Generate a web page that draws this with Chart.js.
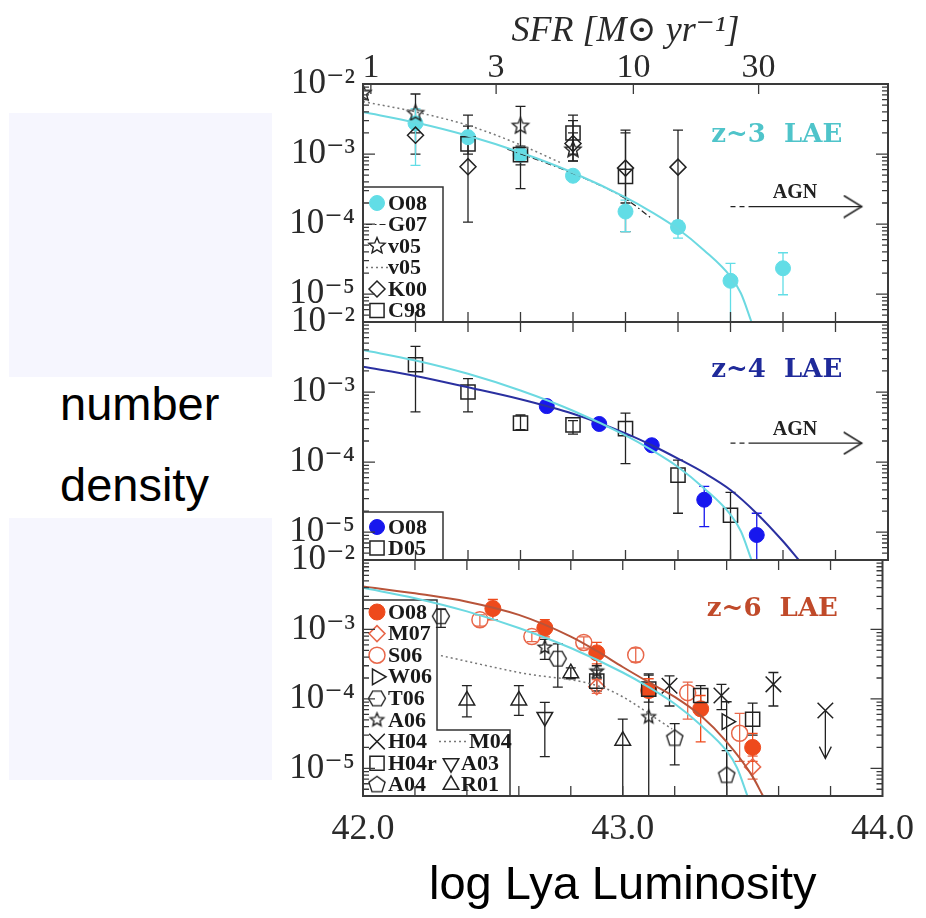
<!DOCTYPE html>
<html>
<head>
<meta charset="utf-8">
<script src="https://cdn.jsdelivr.net/npm/chart.js@4.4.1/dist/chart.umd.min.js"></script>
<style>
  html, body { margin: 0; padding: 0; background: #fff; }
  #wrap { position: relative; width: 926px; height: 918px; overflow: hidden; }
  .band { position: absolute; left: 9px; width: 263px; background: #f6f6fe; }
  #numLabel { position: absolute; left: 60px; top: 363px; font: 47px "Liberation Sans", Arial, sans-serif; line-height: 81px; color: #000; }
  canvas { position: absolute; left: 0; top: 0; }
</style>
</head>
<body>
<div id="wrap">
  <div class="band" style="top:113px;height:264px"></div>
  <div class="band" style="top:518px;height:262px"></div>
  <div id="numLabel">number<br>density</div>
  <canvas id="p1" width="926" height="918"></canvas>
  <canvas id="p2" width="926" height="918"></canvas>
  <canvas id="p3" width="926" height="918"></canvas>
</div>
<script>
// axes
const lumTicks = [42.0, 42.2, 42.4, 42.6, 42.8, 43.0, 43.2, 43.4, 43.6, 43.8, 44.0];
const lumLabels = ['42.0', '', '', '', '', '43.0', '', '', '', '', '44.0'];
const sfrTicks = [1, 3, 10, 30];
const sfrZero = 42.03; // log L where SFR = 1
const yTicks = [1e-5, 1e-4, 1e-3, 1e-2];
const yTickLabels = ['10⁻⁵', '10⁻⁴', '10⁻³', '10⁻²'];
const yMin = 4e-6, yMax = 1e-2;

// z~3 panel
const z3CurveL = [42.0, 42.2, 42.4, 42.6, 42.8, 43.0, 43.1, 43.2, 43.3, 43.4, 43.44, 43.48];
const z3CurveN = [3.98e-3, 2.82e-3, 1.82e-3, 1.05e-3, 5.4e-4, 2.4e-4, 1.48e-4, 8.5e-5, 4.2e-5, 1.78e-5, 1.02e-5, 4.0e-6];
const o08z3L = [42.2, 42.4, 42.6, 42.8, 43.0, 43.2, 43.4, 43.6];
const o08z3N = [2.75e-3, 1.74e-3, 9.8e-4, 4.9e-4, 1.51e-4, 9.1e-5, 1.55e-5, 2.34e-5];
const o08z3Hi = [4.4e-3, 2.0e-3, 1.15e-3, 5.6e-4, 2.2e-4, 1.1e-4, 2.75e-5, 3.9e-5];
const o08z3Lo = [6.9e-4, 1.5e-3, 8.5e-4, 4.3e-4, 7.8e-5, 6.3e-5, 4.0e-6, 9.8e-6];
const g07L = [42.55, 42.7, 42.85, 43.0, 43.1];
const g07N = [1.17e-3, 7.4e-4, 4.4e-4, 2.3e-4, 1.2e-4];
const v05L = [42.0, 42.2, 42.6, 42.8];
const v05N = [7.4e-3, 3.8e-3, 2.5e-3, 1.15e-3];
const v05Hi = [null, 7.2e-3, 4.8e-3, 2.0e-3];
const v05Lo = [null, 2.0e-3, 3.2e-4, 8.0e-4];
const v05fitL = [42.0, 42.2, 42.4, 42.6, 42.75];
const v05fitN = [5.6e-3, 4.0e-3, 2.57e-3, 1.35e-3, 7.6e-4];
const k00L = [42.2, 42.4, 42.8, 43.0, 43.2];
const k00N = [1.86e-3, 6.6e-4, 1.41e-3, 6.3e-4, 6.5e-4];
const k00Hi = [2.8e-3, 3.6e-3, 3.0e-3, 2.2e-3, 2.2e-3];
const k00Lo = [1.0e-3, 1.07e-4, 7.9e-4, 7.8e-5, 9.1e-5];
const c98L = [42.4, 42.6, 42.8, 43.0];
const c98N = [1.4e-3, 9.8e-4, 2.0e-3, 4.8e-4];
const c98Hi = [2.5e-3, 1.3e-3, 3.6e-3, 2.0e-3];
const c98Lo = [1.0e-3, 7.0e-4, 1.0e-3, 2.0e-4];
const agnL = [43.40, 43.47, 43.90];
const agnZ3N = [1.78e-4, 1.78e-4, 1.78e-4];

// z~4 panel
const z4CurveL = [42.0, 42.2, 42.4, 42.6, 42.8, 43.0, 43.1, 43.2, 43.3, 43.4, 43.5, 43.6, 43.66];
const z4CurveN = [2.29e-3, 1.70e-3, 1.17e-3, 7.9e-4, 4.9e-4, 2.57e-4, 1.74e-4, 1.12e-4, 7.0e-5, 4.0e-5, 1.85e-5, 7.4e-6, 4.0e-6];
const o08z4L = [42.7, 42.9, 43.1, 43.3, 43.5];
const o08z4N = [6.3e-4, 3.5e-4, 1.74e-4, 2.9e-5, 9.1e-6];
const o08z4Hi = [null, null, null, 4.5e-5, 1.86e-5];
const o08z4Lo = [null, null, null, 1.2e-5, 4.0e-6];
const d05L = [42.2, 42.4, 42.6, 42.8, 43.0, 43.2, 43.4];
const d05N = [2.45e-3, 1.0e-3, 3.6e-4, 3.4e-4, 3.0e-4, 6.5e-5, 1.74e-5];
const d05Hi = [4.5e-3, 1.55e-3, 4.7e-4, 3.9e-4, 5.0e-4, 1.07e-4, 3.7e-5];
const d05Lo = [5.2e-4, 5.2e-4, 2.9e-4, 2.5e-4, 9.5e-5, 1.86e-5, 4.0e-6];
const agnZ4N = [1.86e-4, 1.86e-4, 1.86e-4];

// z~6 panel
const z6CurveL = [42.0, 42.2, 42.4, 42.6, 42.8, 42.9, 43.0, 43.1, 43.2, 43.3, 43.4, 43.5, 43.54];
const z6CurveN = [4.17e-3, 3.31e-3, 2.51e-3, 1.62e-3, 7.9e-4, 4.9e-4, 2.88e-4, 1.74e-4, 1.07e-4, 5.75e-5, 2.4e-5, 7.6e-6, 4.0e-6];
const o08z6L = [42.5, 42.7, 42.9, 43.1, 43.3, 43.5];
const o08z6N = [2.0e-3, 1.05e-3, 4.6e-4, 1.32e-4, 7.2e-5, 2.0e-5];
const o08z6Hi = [2.7e-3, 1.38e-3, 6.5e-4, 1.95e-4, 1.12e-4, 3.2e-5];
const o08z6Lo = [1.38e-3, 7.8e-4, 3.2e-4, 1.07e-4, 2.4e-5, 1.26e-5];
const m07L = [42.9, 43.5];
const m07N = [1.5e-4, 1.05e-5];
const m07Hi = [1.9e-4, 1.5e-5];
const m07Lo = [1.2e-4, 7.0e-6];
const s06L = [42.45, 42.65, 42.85, 43.05, 43.25, 43.45];
const s06N = [1.38e-3, 7.9e-4, 6.5e-4, 4.3e-4, 1.23e-4, 3.2e-5];
const s06Hi = [1.62e-3, 9.3e-4, 7.8e-4, 5.4e-4, 1.74e-4, 6.2e-5];
const s06Lo = [1.12e-3, 6.7e-4, 5.4e-4, 3.4e-4, 5.1e-5, 1.26e-5];
const w06L = [43.4];
const w06N = [4.7e-5];
const w06Hi = [9.1e-5];
const w06Lo = [4.0e-6];
const t06L = [42.3, 42.75];
const t06N = [1.55e-3, 3.8e-4];
const t06Hi = [1.95e-3, 6.2e-4];
const t06Lo = [1.07e-3, 1.48e-4];
const a06L = [42.7, 42.9, 43.1];
const a06N = [5.5e-4, 2.5e-4, 5.5e-5];
const a06Hi = [7.2e-4, 3.0e-4, 2.3e-4];
const a06Lo = [3.7e-4, 2.0e-4, 4.0e-6];
const h04L = [43.18, 43.38, 43.58, 43.78];
const h04N = [1.55e-4, 1.12e-4, 1.62e-4, 6.8e-5];
const h04Hi = [2.14e-4, 1.62e-4, 2.4e-4, null];
const h04Lo = [7.9e-5, 7.0e-5, 7.9e-5, 1.38e-5];
const h04Limit = [false, false, false, true];
const h04rL = [42.9, 43.1, 43.3, 43.5];
const h04rN = [1.8e-4, 1.38e-4, 1.12e-4, 5.1e-5];
const h04rHi = [2.6e-4, 2.2e-4, 1.55e-4, 8.7e-5];
const h04rLo = [1.3e-4, 9.0e-5, 8.0e-5, 3.0e-5];
const a03L = [42.7];
const a03N = [5.5e-5];
const a03Hi = [8.9e-5];
const a03Lo = [1.48e-5];
const a04L = [43.2, 43.4];
const a04N = [2.7e-5, 7.9e-6];
const a04Hi = [4.4e-5, 1.8e-5];
const a04Lo = [1.12e-5, 4.0e-6];
const r01L = [42.4, 42.6, 42.8, 43.0];
const r01N = [9.5e-5, 9.5e-5, 2.35e-4, 2.5e-5];
const r01Hi = [1.55e-4, 1.55e-4, 2.8e-4, 5.1e-5];
const r01Lo = [5.5e-5, 5.8e-5, 1.95e-4, 4.0e-6];
const m04L = [42.3, 42.6, 42.94, 43.19];
const m04N = [4.2e-4, 2.4e-4, 1.38e-4, 3.7e-5];

// colours
const ink = '#222';
const cyan = '#62dde6', cyanLine = '#6cd9e1', cyanText = '#4fc4ca';
const blue = '#1717ee', blueLine = '#2a30a0', blueText = '#1f2a9a';
const red = '#ee4a1c', redLine = '#b8543a', redOpen = '#e8674a', redText = '#c04a2a';
const none = 'rgba(0,0,0,0)';

function shapeImage(kind, r, color, lw) {
  const s = Math.ceil(2 * r + 2 * lw + 2);
  const c = document.createElement('canvas');
  c.width = s; c.height = s;
  const g = c.getContext('2d');
  g.strokeStyle = color; g.lineWidth = lw;
  const cx = s / 2, cy = s / 2;
  g.beginPath();
  if (kind === 'star') {
    for (let i = 0; i < 10; i++) {
      const rr = i % 2 ? r * 0.45 : r;
      const a = -Math.PI / 2 + i * Math.PI / 5;
      g.lineTo(cx + rr * Math.cos(a), cy + rr * Math.sin(a));
    }
  } else {
    const n = kind === 'pentagon' ? 5 : 6;
    const a0 = kind === 'pentagon' ? -Math.PI / 2 : 0;
    for (let i = 0; i < n; i++) {
      const a = a0 + i * 2 * Math.PI / n;
      g.lineTo(cx + r * Math.cos(a), cy + r * Math.sin(a));
    }
  }
  g.closePath();
  g.stroke();
  return c;
}

function chevronImage(w, h, color) {
  const c = document.createElement('canvas');
  c.width = 2 * w + 2; c.height = 2 * h + 2;
  const g = c.getContext('2d');
  g.strokeStyle = color; g.lineWidth = 1.5;
  g.beginPath();
  g.moveTo(1, 1); g.lineTo(w + 1, h + 1); g.lineTo(1, 2 * h + 1);
  g.stroke();
  return c;
}

const S = {
  o08z3: {pointStyle: 'circle', radius: 7.5, fill: cyan, stroke: cyan, width: 1},
  v05: {pointStyle: shapeImage('star', 8.5, ink, 1.4), radius: 8, fill: none, stroke: ink, width: 1.4},
  k00: {pointStyle: 'rectRot', radius: 8, fill: none, stroke: ink, width: 1.5},
  c98: {pointStyle: 'rect', radius: 10, fill: none, stroke: ink, width: 1.5},
  o08z4: {pointStyle: 'circle', radius: 7.5, fill: blue, stroke: blue, width: 1},
  d05: {pointStyle: 'rect', radius: 10, fill: none, stroke: ink, width: 1.5},
  o08z6: {pointStyle: 'circle', radius: 8, fill: red, stroke: red, width: 1},
  m07: {pointStyle: 'rectRot', radius: 8, fill: none, stroke: redOpen, width: 1.5},
  s06: {pointStyle: 'circle', radius: 8, fill: none, stroke: redOpen, width: 1.5},
  w06: {pointStyle: 'triangle', rotation: 90, radius: 9, fill: none, stroke: ink, width: 1.5},
  t06: {pointStyle: shapeImage('hexagon', 8.5, ink, 1.4), radius: 8, fill: none, stroke: ink, width: 1.4},
  a06: {pointStyle: shapeImage('star', 7, ink, 1.4), radius: 7, fill: none, stroke: ink, width: 1.4},
  h04: {pointStyle: 'crossRot', radius: 11, fill: none, stroke: ink, width: 1.5},
  h04r: {pointStyle: 'rect', radius: 10, fill: none, stroke: ink, width: 1.5},
  a03: {pointStyle: 'triangle', rotation: 180, radius: 9, fill: none, stroke: ink, width: 1.5},
  a04: {pointStyle: shapeImage('pentagon', 8.5, ink, 1.4), radius: 8, fill: none, stroke: ink, width: 1.4},
  r01: {pointStyle: 'triangle', radius: 9, fill: none, stroke: ink, width: 1.5}
};
const L = {
  g07: {color: ink, width: 1.2, dash: [6, 3, 1.5, 3]},
  v05fit: {color: '#777', width: 1.5, dash: [2, 3]},
  m04: {color: '#777', width: 1.5, dash: [2, 3]}
};

function pts(Lx, N, Hi, Lo, st, Lim) {
  return {
    data: Lx.map((x, i) => ({x, y: N[i], hi: Hi ? Hi[i] : null, lo: Lo ? Lo[i] : null, limit: Lim ? Lim[i] : false})),
    showLine: false,
    pointStyle: st.pointStyle,
    pointRadius: st.radius,
    pointRotation: st.rotation || 0,
    pointBackgroundColor: st.fill,
    pointBorderColor: st.stroke,
    pointBorderWidth: st.width,
    errColor: st.stroke,
    errorBars: true
  };
}

function curve(Lx, N, color, width, dash) {
  return {
    data: Lx.map((x, i) => ({x, y: N[i]})),
    showLine: true, pointRadius: 0, borderColor: color, borderWidth: width,
    borderDash: dash || [], cubicInterpolationMode: 'monotone', fill: false
  };
}

function agnArrow(N) {
  return {
    data: agnL.map((x, i) => ({x, y: N[i]})),
    showLine: true, borderColor: ink, borderWidth: 1.3,
    segment: { borderDash: c => c.p0DataIndex === 0 ? [5, 4] : undefined },
    pointRadius: [0, 0, 5], pointStyle: chevronImage(18, 11, ink)
  };
}

// error bars drawn under the markers
const errorBars = {
  id: 'errorBars',
  beforeDatasetsDraw(chart) {
    const {ctx, chartArea: a, scales: {x, y}} = chart;
    ctx.save();
    ctx.beginPath();
    ctx.rect(a.left, a.top, a.right - a.left, a.bottom - a.top);
    ctx.clip();
    chart.data.datasets.forEach(ds => {
      if (!ds.errorBars) return;
      ctx.strokeStyle = ds.errColor;
      ctx.lineWidth = 1.3;
      ds.data.forEach(p => {
        if (p.hi == null && p.lo == null) return;
        const px = x.getPixelForValue(p.x);
        const yt = y.getPixelForValue(p.hi == null ? p.y : p.hi);
        const yb = y.getPixelForValue(p.lo == null ? p.y : p.lo);
        ctx.beginPath();
        ctx.moveTo(px, yt); ctx.lineTo(px, yb);
        if (p.hi != null) { ctx.moveTo(px - 5, yt); ctx.lineTo(px + 5, yt); }
        if (p.lo != null && p.lo > yMin) {
          if (p.limit) {
            ctx.moveTo(px - 6, yb - 12); ctx.lineTo(px, yb); ctx.lineTo(px + 6, yb - 12);
          } else {
            ctx.moveTo(px - 5, yb); ctx.lineTo(px + 5, yb);
          }
        }
        ctx.stroke();
      });
    });
    ctx.restore();
  }
};

function drawMarker(ctx, st, x, y) {
  ctx.save();
  ctx.fillStyle = st.fill; ctx.strokeStyle = st.stroke; ctx.lineWidth = st.width;
  Chart.helpers.drawPoint(ctx, {pointStyle: st.pointStyle, radius: st.radius, rotation: st.rotation || 0, borderWidth: st.width}, x, y);
  ctx.restore();
}

// legend box (under the data), frame, inward ticks and labels (over it)
function makeDeco(cfg) {
  return {
    id: 'deco',
    beforeDatasetsDraw(chart) {
      const {ctx, chartArea: a} = chart;
      const lg = cfg.legend;
      const top = a.bottom - lg.height;
      ctx.save();
      ctx.beginPath();
      ctx.moveTo(a.left, top);
      ctx.lineTo(a.left + lg.width, top);
      if (lg.stepY) {
        ctx.lineTo(a.left + lg.width, top + lg.stepY);
        ctx.lineTo(a.left + lg.stepWidth, top + lg.stepY);
        ctx.lineTo(a.left + lg.stepWidth, a.bottom);
      } else {
        ctx.lineTo(a.left + lg.width, a.bottom);
      }
      ctx.lineTo(a.left, a.bottom);
      ctx.closePath();
      ctx.lineWidth = 1.5;
      ctx.strokeStyle = '#333';
      ctx.stroke();
      ctx.font = 'bold 22px "Liberation Serif", serif';
      ctx.textBaseline = 'middle';
      ctx.textAlign = 'left';
      ctx.fillStyle = '#1a1a1a';
      lg.entries.forEach(e => {
        const ry = top + lg.rowTop + e.row * lg.rowGap;
        const c2 = e.col === 2;
        if (e.mark) drawMarker(ctx, e.mark, a.left + (c2 ? 88 : 14), ry);
        if (e.line) {
          ctx.save();
          ctx.strokeStyle = e.line.color; ctx.lineWidth = e.line.width; ctx.setLineDash(e.line.dash);
          ctx.beginPath();
          ctx.moveTo(a.left + (c2 ? 76 : 3), ry); ctx.lineTo(a.left + (c2 ? 104 : 25), ry);
          ctx.stroke();
          ctx.restore();
        }
        ctx.fillText(e.text, a.left + (c2 ? (e.line ? 106 : 98) : 25), ry + 1);
      });
      ctx.restore();
    },
    afterDatasetsDraw(chart) {
      const {ctx, chartArea: a, scales} = chart;
      const x = scales.x, y = scales.y;
      ctx.save();
      ctx.strokeStyle = '#3a3a3a';
      ctx.lineWidth = 1.3;
      ctx.beginPath();
      lumTicks.forEach(v => {
        if (v <= 42 || v >= 44) return;
        const px = x.getPixelForValue(v);
        ctx.moveTo(px, a.bottom); ctx.lineTo(px, a.bottom - 10);
        if (!cfg.top) { ctx.moveTo(px, a.top); ctx.lineTo(px, a.top + 10); }
      });
      if (cfg.top) {
        sfrTicks.forEach(s => {
          const px = x.getPixelForValue(sfrZero + Math.log10(s));
          ctx.moveTo(px, a.top); ctx.lineTo(px, a.top + 10);
        });
      }
      for (let k = -6; k <= -2; k++) {
        for (let m = 1; m <= 9; m++) {
          const v = m * Math.pow(10, k);
          if (v <= yMin || v >= yMax) continue;
          const py = y.getPixelForValue(v);
          const len = m === 1 ? 12 : 6;
          ctx.moveTo(a.left, py); ctx.lineTo(a.left + len, py);
          ctx.moveTo(a.right, py); ctx.lineTo(a.right - len, py);
        }
      }
      ctx.stroke();
      ctx.lineWidth = 2;
      ctx.strokeRect(a.left, a.top, a.right - a.left, a.bottom - a.top);

      // panel labels
      ctx.textAlign = 'center';
      ctx.textBaseline = 'middle';
      cfg.notes.forEach(n => {
        ctx.font = n.font;
        ctx.fillStyle = n.color;
        ctx.fillText(n.text, x.getPixelForValue(n.x), y.getPixelForValue(n.y));
      });
      ctx.restore();
    }
  };
}

const serif = '"Liberation Serif", "DejaVu Serif", serif';

function makePanel(id, cfg) {
  return new Chart(document.getElementById(id), {
    type: 'scatter',
    data: { datasets: cfg.datasets },
    options: {
      responsive: false,
      animation: false,
      events: [],
      layout: { padding: { left: 0, right: 38, top: cfg.padTop, bottom: cfg.padBottom } },
      plugins: { legend: { display: false }, tooltip: { enabled: false } },
      scales: {
        x: {
          type: 'linear', min: 42, max: 44, position: 'bottom', display: !!cfg.bottom,
          afterBuildTicks: s => { s.ticks = lumTicks.map(v => ({value: v})); },
          afterFit: s => { s.height = cfg.bottom ? 122 : 0; },
          grid: { display: false, drawTicks: false },
          border: { display: false },
          ticks: {
            autoSkip: false, maxRotation: 0, padding: 12, color: '#2a2a2a',
            font: { family: serif, size: 36 },
            callback: (v, i) => lumLabels[i]
          },
          title: {
            display: true, text: 'log Lya Luminosity', color: '#000',
            font: { family: '"Liberation Sans", Arial, sans-serif', size: 47 },
            padding: { top: 0, bottom: 4 }
          }
        },
        x2: {
          type: 'linear', min: 42, max: 44, position: 'top', display: !!cfg.top,
          afterBuildTicks: s => { s.ticks = sfrTicks.map(v => ({value: sfrZero + Math.log10(v)})); },
          afterFit: s => { s.height = cfg.top ? 84 : 0; },
          grid: { display: false, drawTicks: false },
          border: { display: false },
          ticks: {
            autoSkip: false, maxRotation: 0, padding: -4, color: '#2a2a2a',
            font: { family: serif, size: 34 },
            callback: (v, i) => String(sfrTicks[i])
          },
          title: {
            display: true, text: 'SFR [M⊙ yr⁻¹]', color: '#2a2a2a',
            font: { family: serif, size: 36, style: 'italic' },
            padding: { top: 10, bottom: 0 }
          }
        },
        y: {
          type: 'logarithmic', min: yMin, max: yMax,
          afterBuildTicks: s => { s.ticks = yTicks.map(v => ({value: v})); },
          afterFit: s => { s.width = 363; },
          grid: { display: false, drawTicks: false },
          border: { display: false },
          ticks: {
            autoSkip: false, padding: 8, color: '#2a2a2a',
            font: { family: serif, size: 35 },
            callback: (v, i) => yTickLabels[i]
          }
        }
      }
    },
    plugins: [makeDeco(cfg), errorBars]
  });
}

makePanel('p1', {
  top: true, padTop: 0, padBottom: 596,
  datasets: [
    curve(v05fitL, v05fitN, L.v05fit.color, L.v05fit.width, L.v05fit.dash),
    curve(z3CurveL, z3CurveN, cyanLine, 2),
    curve(g07L, g07N, L.g07.color, L.g07.width, L.g07.dash),
    pts(c98L, c98N, c98Hi, c98Lo, S.c98),
    pts(k00L, k00N, k00Hi, k00Lo, S.k00),
    pts(v05L, v05N, v05Hi, v05Lo, S.v05),
    pts(o08z3L, o08z3N, o08z3Hi, o08z3Lo, S.o08z3),
    agnArrow(agnZ3N)
  ],
  legend: {
    width: 80, height: 135, rowTop: 16, rowGap: 21.5,
    entries: [
      {row: 0, text: 'O08', mark: S.o08z3},
      {row: 1, text: 'G07', line: L.g07},
      {row: 2, text: 'v05', mark: S.v05},
      {row: 3, text: 'v05', line: L.v05fit},
      {row: 4, text: 'K00', mark: S.k00},
      {row: 5, text: 'C98', mark: S.c98}
    ]
  },
  notes: [
    {text: 'z~3  LAE', x: 43.576, y: 1.86e-3, color: cyanText, font: 'bold 26px "DejaVu Serif", serif'},
    {text: 'AGN', x: 43.646, y: 2.75e-4, color: ink, font: 'bold 20px "Liberation Serif", serif'}
  ]
});

makePanel('p2', {
  padTop: 322, padBottom: 358,
  datasets: [
    curve(z3CurveL, z3CurveN, cyanLine, 2),
    curve(z4CurveL, z4CurveN, blueLine, 2),
    pts(d05L, d05N, d05Hi, d05Lo, S.d05),
    pts(o08z4L, o08z4N, o08z4Hi, o08z4Lo, S.o08z4),
    agnArrow(agnZ4N)
  ],
  legend: {
    width: 80, height: 48, rowTop: 15, rowGap: 21,
    entries: [
      {row: 0, text: 'O08', mark: S.o08z4},
      {row: 1, text: 'D05', mark: S.d05}
    ]
  },
  notes: [
    {text: 'z~4  LAE', x: 43.576, y: 2.04e-3, color: blueText, font: 'bold 26px "DejaVu Serif", serif'},
    {text: 'AGN', x: 43.646, y: 2.9e-4, color: ink, font: 'bold 20px "Liberation Serif", serif'}
  ]
});

makePanel('p3', {
  bottom: true, padTop: 560, padBottom: 0,
  datasets: [
    curve(m04L, m04N, L.m04.color, L.m04.width, L.m04.dash),
    curve(z3CurveL, z3CurveN, cyanLine, 2),
    curve(z6CurveL, z6CurveN, redLine, 2),
    pts(r01L, r01N, r01Hi, r01Lo, S.r01),
    pts(a03L, a03N, a03Hi, a03Lo, S.a03),
    pts(a04L, a04N, a04Hi, a04Lo, S.a04),
    pts(t06L, t06N, t06Hi, t06Lo, S.t06),
    pts(a06L, a06N, a06Hi, a06Lo, S.a06),
    pts(h04rL, h04rN, h04rHi, h04rLo, S.h04r),
    pts(h04L, h04N, h04Hi, h04Lo, S.h04, h04Limit),
    pts(w06L, w06N, w06Hi, w06Lo, S.w06),
    pts(s06L, s06N, s06Hi, s06Lo, S.s06),
    pts(m07L, m07N, m07Hi, m07Lo, S.m07),
    pts(o08z6L, o08z6N, o08z6Hi, o08z6Lo, S.o08z6)
  ],
  legend: {
    width: 74, height: 196, stepY: 130, stepWidth: 147, rowTop: 12, rowGap: 21.6,
    entries: [
      {row: 0, text: 'O08', mark: S.o08z6},
      {row: 1, text: 'M07', mark: S.m07},
      {row: 2, text: 'S06', mark: S.s06},
      {row: 3, text: 'W06', mark: S.w06},
      {row: 4, text: 'T06', mark: S.t06},
      {row: 5, text: 'A06', mark: S.a06},
      {row: 6, text: 'H04', mark: S.h04},
      {row: 6, col: 2, text: 'M04', line: L.m04},
      {row: 7, text: 'H04r', mark: S.h04r},
      {row: 7, col: 2, text: 'A03', mark: S.a03},
      {row: 8, text: 'A04', mark: S.a04},
      {row: 8, col: 2, text: 'R01', mark: S.r01}
    ]
  },
  notes: [
    {text: 'z~6  LAE', x: 43.576, y: 1.95e-3, color: redText, font: 'bold 26px "DejaVu Serif", serif'}
  ]
});
</script>
</body>
</html>
